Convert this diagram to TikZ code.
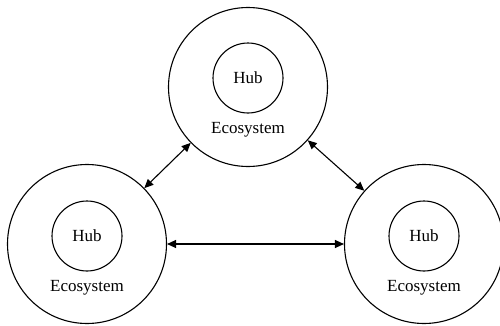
\documentclass[tikz,border=0pt]{standalone}
\usepackage{fontspec}
\setmainfont{Liberation Serif}
\usepackage{tikz}
\usetikzlibrary{arrows.meta,positioning,calc}

\begin{document}
\begin{tikzpicture}[x=1pt,y=1pt,
  eco/.style={draw, circle, line width=1.1pt, minimum size=159pt, inner sep=0pt},
  hub/.style={draw, circle, line width=1.1pt, minimum size=70pt, inner sep=0pt,
    font=\fontsize{17}{20}\selectfont},
  lab/.style={font=\fontsize{17}{20}\selectfont, inner sep=0pt},
  link/.style={{Triangle[length=9pt,width=8pt]}-{Triangle[length=9pt,width=8pt]}, line width=1.1pt}]
\useasboundingbox (0,0) rectangle (500,325);
% Three ecosystems
\node[eco] (E1) at (248,238) {};
\node[eco] (E2) at (87,81) {};
\node[eco] (E3) at (424,81) {};

% Hubs inside
\node[hub] (H1) at ($(E1)+(0,9)$) {Hub};
\node[hub] (H2) at ($(E2)+(0,8)$) {Hub};
\node[hub] (H3) at ($(E3)+(0,8)$) {Hub};

% Labels
\node[lab] (L1) at ($(E1)+(0,-43)$) {Ecosystem};
\node[lab] (L2) at ($(E2)+(0,-44)$) {Ecosystem};
\node[lab] (L3) at ($(E3)+(0,-44)$) {Ecosystem};

% Links between ecosystems
\draw[link] (E1) -- (E2);
\draw[link] (E1) -- (E3);
\draw[link] (E2) -- (E3);
\end{tikzpicture}
\end{document}
